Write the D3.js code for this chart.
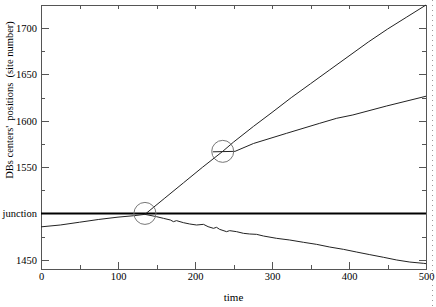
<!DOCTYPE html>
<html lang="en">
<head>
    <meta charset="UTF-8">
    <title>DB positions</title>
    <style type="text/css">
        body {
            margin: 0;
            background-color: #fff;
        }
        svg text {
            font-family: 'Liberation Serif', 'DejaVu Serif', serif;
            fill: #000;
        }
        .axis path {
            display: none;
        }
        .axis line {
            stroke: #555;
            shape-rendering: crispEdges;
        }
        .curve {
            fill: none;
            stroke: #222;
            stroke-width: 1;
        }
    </style>
</head>
<body>
<div id="chart"></div>
<script src="https://d3js.org/d3.v7.min.js"></script>
<script type="text/javascript">
    // [time, site number]
    var beforeJunction = [
        [0, 1485.5], [25, 1487.5], [50, 1490.5], [75, 1493.5], [100, 1496], [120, 1497.5], [135, 1499]
    ];
    var lowerBranch = [
        [135, 1499], [150, 1496.5], [159, 1494.7], [168, 1492.9], [172, 1491.1], [176, 1492.2],
        [185, 1490], [193, 1488.6], [202, 1487.5], [211, 1488.2], [217, 1485.7], [224, 1483.9],
        [228, 1485], [232, 1482.8], [241, 1480.3], [245, 1481.4], [254, 1480.3], [263, 1478.5],
        [271, 1477.8], [280, 1477.4], [289, 1475.6], [306, 1473.1], [323, 1471.3], [341, 1468.8],
        [358, 1466.6], [375, 1463.7], [393, 1461.2], [410, 1458.3], [427, 1455.5], [445, 1452.6],
        [462, 1449.7], [479, 1447.5], [497, 1446.1], [500, 1445.8]
    ];
    var upperBranch = [
        [135, 1499], [160, 1516], [185, 1533], [210, 1550], [236, 1567], [250, 1577], [276, 1594],
        [300, 1609], [325, 1625], [350, 1640], [375, 1655], [400, 1670], [425, 1685], [450, 1699],
        [475, 1712], [500, 1725]
    ];
    var middleBranch = [
        [223, 1566.5], [252, 1567], [276, 1575.5], [319, 1586.5], [362, 1597.3], [384, 1602.7],
        [405, 1606.3], [449, 1616], [500, 1626.5]
    ];
    var circles = [[135, 1500], [236, 1567]];
    var junction = 1500;

    var xTicks = [0, 100, 200, 300, 400, 500];
    var xMinor = [50, 150, 250, 350, 450];
    var yTicks = [1450, 1500, 1550, 1600, 1650, 1700];
    var yMinor = [1475, 1525, 1575, 1625, 1675, 1725];

    var margin = {top: 5, right: 10, bottom: 38, left: 41},
        width = 385,
        height = 264;

    var x = d3.scaleLinear().domain([0, 500]).range([0, width]);
    var y = d3.scaleLinear().domain([1440, 1725]).range([height, 0]);

    var svg = d3.select("#chart").append("svg")
        .attr("width", 436)
        .attr("height", 307);

    var g = svg.append("g")
        .attr("transform", "translate(" + margin.left + "," + margin.top + ")");

    // frame
    g.append("rect")
        .attr("width", width)
        .attr("height", height)
        .attr("fill", "none")
        .attr("stroke", "#555")
        .attr("shape-rendering", "crispEdges");

    // left axis
    g.append("g").attr("class", "axis")
        .call(d3.axisLeft(y).tickValues(yTicks).tickSize(-8).tickPadding(4)
            .tickFormat(function (d) { return d === junction ? "junction" : d; }))
        .selectAll("text").style("font-size", "10.5px");
    g.append("g").attr("class", "axis")
        .call(d3.axisLeft(y).tickValues(yMinor).tickSize(-4).tickFormat(""));

    // right axis
    g.append("g").attr("class", "axis")
        .attr("transform", "translate(" + width + ",0)")
        .call(d3.axisRight(y).tickValues(yTicks).tickSize(-7).tickFormat(""));
    g.append("g").attr("class", "axis")
        .attr("transform", "translate(" + width + ",0)")
        .call(d3.axisRight(y).tickValues(yMinor).tickSize(-4).tickFormat(""));

    // bottom axis
    g.append("g").attr("class", "axis")
        .attr("transform", "translate(0," + height + ")")
        .call(d3.axisBottom(x).tickValues(xTicks).tickSize(-7).tickPadding(4))
        .selectAll("text").style("font-size", "10.5px");
    g.append("g").attr("class", "axis")
        .attr("transform", "translate(0," + height + ")")
        .call(d3.axisBottom(x).tickValues(xMinor).tickSize(-4).tickFormat(""));

    // top axis
    g.append("g").attr("class", "axis")
        .call(d3.axisTop(x).tickValues(xTicks.concat(xMinor)).tickSize(-4).tickFormat(""));

    // junction line
    g.append("line")
        .attr("x1", 0).attr("x2", width)
        .attr("y1", y(junction)).attr("y2", y(junction))
        .attr("stroke", "#000")
        .attr("stroke-width", 2);

    var line = d3.line()
        .x(function (d) { return x(d[0]); })
        .y(function (d) { return y(d[1]); });

    [beforeJunction, lowerBranch, upperBranch, middleBranch].forEach(function (s) {
        g.append("path").datum(s).attr("class", "curve").attr("d", line);
    });

    g.selectAll(".split")
        .data(circles)
        .enter().append("circle")
        .attr("class", "split")
        .attr("cx", function (d) { return x(d[0]); })
        .attr("cy", function (d) { return y(d[1]); })
        .attr("r", 11)
        .attr("fill", "none")
        .attr("stroke", "#777");

    // axis titles
    svg.append("text")
        .attr("x", margin.left + width / 2)
        .attr("y", 301)
        .attr("text-anchor", "middle")
        .style("font-size", "11px")
        .text("time");

    svg.append("text")
        .attr("transform", "translate(13,100) rotate(-90)")
        .attr("text-anchor", "middle")
        .style("font-size", "10.5px")
        .style("white-space", "pre")
        .text("DBs centers'  positions  (site number)");

    // scan edge on the right
    svg.append("line")
        .attr("x1", 432.5).attr("x2", 432.5)
        .attr("y1", 0).attr("y2", 307)
        .attr("stroke", "#999")
        .attr("stroke-dasharray", "1,4");
</script>
</body>
</html>
